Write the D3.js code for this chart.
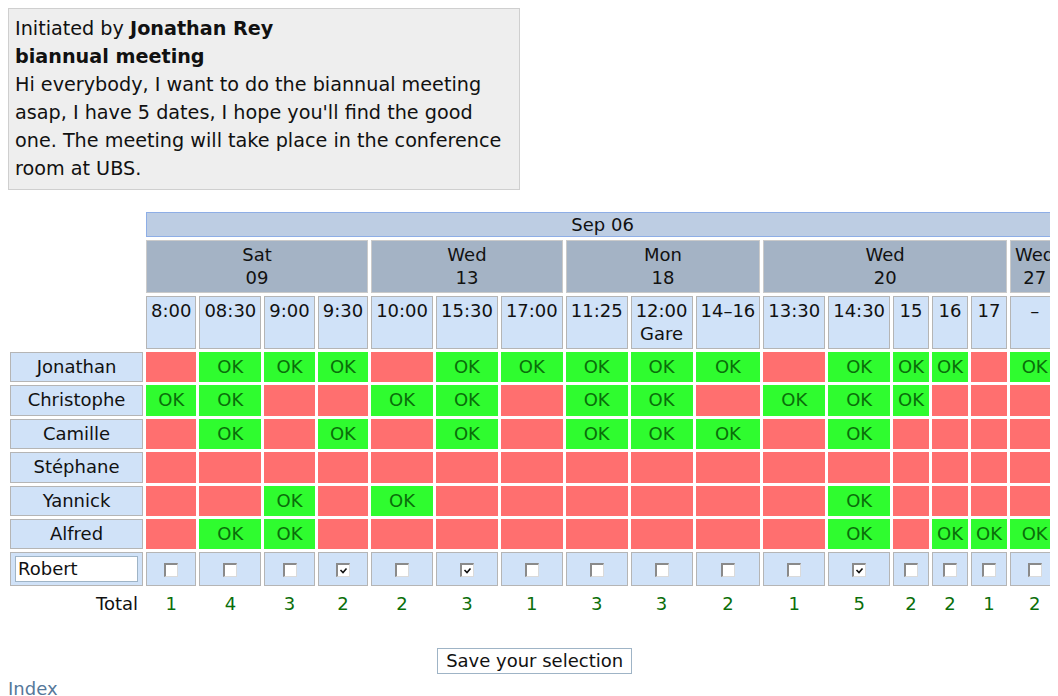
<!DOCTYPE html>
<html>
<head>
<meta charset="utf-8">
<script src="https://cdn.jsdelivr.net/npm/d3@7"></script>
<style>
	body { margin: 8px; font-family: "DejaVu Sans", sans-serif; font-size: 18px; color: #111; background: #fff; overflow: hidden; }
	.intro { width: 498px; padding: 6px; border: 1px solid #cfcfcf; background: #eee; line-height: 28px; white-space: nowrap; font-size: 19.2px; }
	.wrap { width: max-content; margin-top: 19px; margin-left: -1px; }
	table.poll { border-collapse: separate; border-spacing: 3px; line-height: 22.4px; }
	.poll td { padding: 3px 4px; text-align: center; white-space: pre; border: 1px solid transparent; }
	.poll td.month { background: #bdcde3; border-color: #8eaee6; padding: 1px 4px 0 4px; }
	.poll td.day { background: #a4b3c5; border-color: #cacaca; }
	.poll td.slot, .poll td.name, .poll td.check { background: #d0e2f8; border-color: #b5b5b5; }
	.poll td.slot { vertical-align: top; }
	.poll td.answer { color: #0a6e0a; }
	.poll td.total { color: #0a6e0a; }
	.poll td.total-label { text-align: right; }
	.name-input { display: block; width: 119px; height: 24px; line-height: 24px; padding-left: 2px; border: 1px solid #9fb4c6; background: #fff; text-align: left; }
	.box { display: inline-block; position: relative; width: 11px; height: 11px; vertical-align: middle; background: #fff;
		border-top: 2px solid #8a8a8a; border-left: 2px solid #8a8a8a; border-right: 1px solid #dadada; border-bottom: 1px solid #dadada; }
	.box svg { position: absolute; left: 0; top: 0; }
	.save { text-align: center; margin-top: 25px; }
	.save span { display: inline-block; padding: 0 8px; line-height: 24px; border: 1px solid #9fb4c6; background: #fff; }
	.index { margin-top: 4px; line-height: 22px; color: #56789a; }
</style>
</head>
<body>
<div class="intro">
	<div>Initiated by <b>Jonathan Rey</b></div>
	<div><b>biannual meeting</b></div>
	<div id="desc"></div>
</div>
<div class="wrap">
	<table class="poll" id="poll"></table>
	<div class="save"><span>Save your selection</span></div>
</div>
<div class="index">Index</div>
<script>
const descLines = [
	'Hi everybody, I want to do the biannual meeting',
	'asap, I have 5 dates, I hope you\'ll find the good',
	'one. The meeting will take place in the conference',
	'room at UBS.'
];

const monthLabel = 'Sep 06';
const dayNames = ['Sat', 'Wed', 'Mon', 'Wed', 'Wed'];
const dayDates = ['09', '13', '18', '20', '27'];
const slots = ['8:00', '08:30', '9:00', '9:30', '10:00', '15:30', '17:00', '11:25', '12:00\nGare', '14–16', '13:30', '14:30', '15', '16', '17', '–'];
const slotDay = [0, 0, 0, 0, 1, 1, 1, 2, 2, 2, 3, 3, 3, 3, 3, 4];

const participants = ['Jonathan', 'Christophe', 'Camille', 'Stéphane', 'Yannick', 'Alfred'];
// 1 = OK, 0 = not available
const answers = [
	[0, 1, 1, 1, 0, 1, 1, 1, 1, 1, 0, 1, 1, 1, 0, 1],
	[1, 1, 0, 0, 1, 1, 0, 1, 1, 0, 1, 1, 1, 0, 0, 0],
	[0, 1, 0, 1, 0, 1, 0, 1, 1, 1, 0, 1, 0, 0, 0, 0],
	[0, 0, 0, 0, 0, 0, 0, 0, 0, 0, 0, 0, 0, 0, 0, 0],
	[0, 0, 1, 0, 1, 0, 0, 0, 0, 0, 0, 1, 0, 0, 0, 0],
	[0, 1, 1, 0, 0, 0, 0, 0, 0, 0, 0, 1, 0, 1, 1, 1]
];

const newParticipant = 'Robert';
const newChecks = [0, 0, 0, 1, 0, 1, 0, 0, 0, 0, 0, 1, 0, 0, 0, 0];
const totals = [1, 4, 3, 2, 2, 3, 1, 3, 3, 2, 1, 5, 2, 2, 1, 2];

const answerColor = d3.scaleOrdinal()
	.domain([0, 1])
	.range(['#ff6f6f', '#2ffc2f']);

d3.select('#desc').selectAll('div')
	.data(descLines)
	.join('div')
	.text(d => d);

const table = d3.select('#poll');
const daySpan = d3.rollup(slotDay, v => v.length, d => d);

// month header
const monthRow = table.append('tr');
monthRow.append('td');
monthRow.append('td')
	.attr('class', 'month')
	.attr('colspan', slots.length)
	.text(monthLabel);

// day headers
const dayRow = table.append('tr');
dayRow.append('td');
dayRow.selectAll('td.day')
	.data(dayNames)
	.join('td')
		.attr('class', 'day')
		.attr('colspan', (d, i) => daySpan.get(i))
		.text((d, i) => d + '\n' + dayDates[i]);

// time slots
const slotRow = table.append('tr');
slotRow.append('td');
slotRow.selectAll('td.slot')
	.data(slots)
	.join('td')
		.attr('class', 'slot')
		.text(d => d);

// one row per participant
const personRows = table.selectAll('tr.person')
	.data(participants)
	.join('tr')
		.attr('class', 'person');

personRows.append('td')
	.attr('class', 'name')
	.text(d => d);

personRows.each(function(name, row) {
	d3.select(this).selectAll('td.answer')
		.data(answers[row])
		.join('td')
			.attr('class', 'answer')
			.style('background', d => answerColor(d))
			.style('border-color', d => answerColor(d))
			.text(d => d ? 'OK' : '');
});

// new participant row with checkboxes
const newRow = table.append('tr');
newRow.append('td')
	.attr('class', 'name')
	.append('div')
		.attr('class', 'name-input')
		.text(newParticipant);

const boxes = newRow.selectAll('td.check')
	.data(newChecks)
	.join('td')
		.attr('class', 'check')
	.append('span')
		.attr('class', 'box');

boxes.filter(d => d)
	.append('svg')
		.attr('width', 11)
		.attr('height', 11)
	.append('path')
		.attr('d', 'M2.5 5 L5 7.5 L8.5 3.5')
		.attr('fill', 'none')
		.attr('stroke', '#111')
		.attr('stroke-width', 1.6);

// totals
const totalRow = table.append('tr');
totalRow.append('td')
	.attr('class', 'total-label')
	.text('Total');
totalRow.selectAll('td.total')
	.data(totals)
	.join('td')
		.attr('class', 'total')
		.text(d => d);
</script>
</body>
</html>
